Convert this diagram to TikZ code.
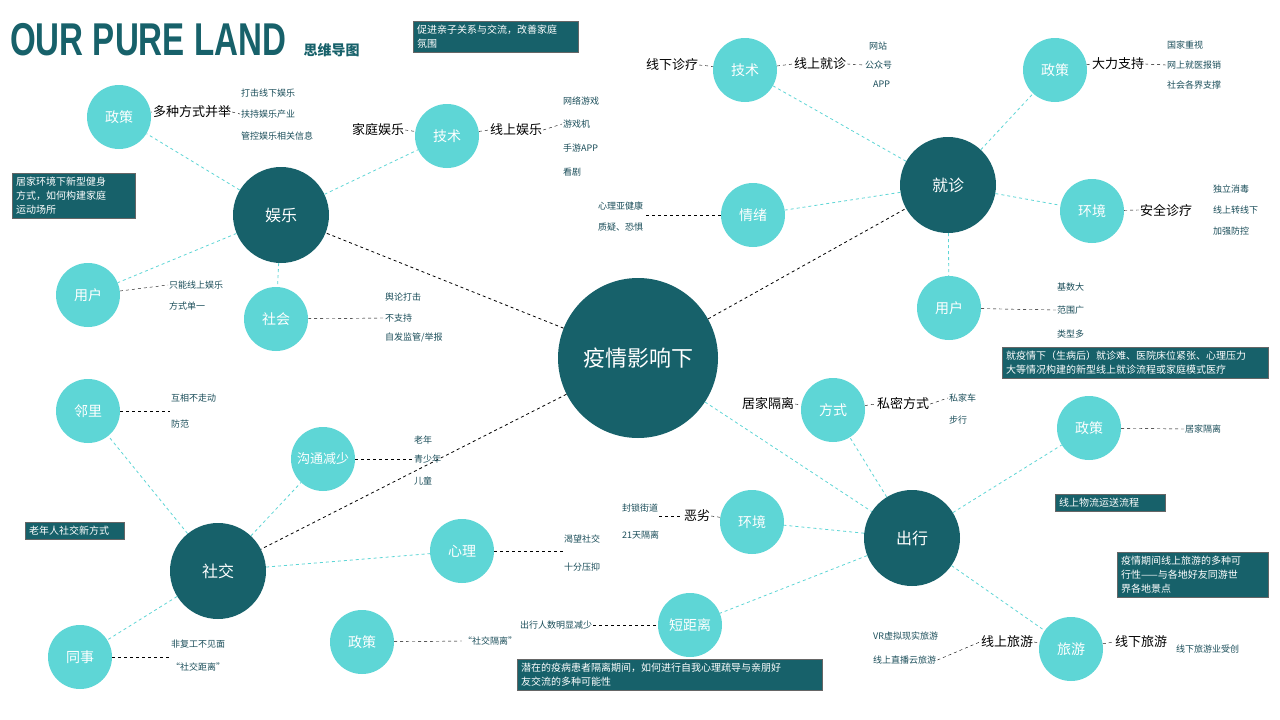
\documentclass[tikz,border=0pt]{standalone}
\usepackage{fontspec}
\setmainfont{Noto Sans CJK SC}
\newfontfamily\titlefont{Liberation Sans}
\definecolor{dk}{HTML}{17616A}
\definecolor{lt}{HTML}{5ED6D6}
\definecolor{tx}{HTML}{1B4E5A}
\begin{document}
\begin{tikzpicture}[x=1pt,y=-1pt,
 big/.style={circle,fill=dk,text=white,minimum size=96pt,inner sep=0pt,font=\fontsize{16}{18}\selectfont},
 sm/.style={circle,fill=lt,text=white,minimum size=64pt,inner sep=0pt,font=\fontsize{14}{16}\selectfont},
 tl/.style={draw=lt,dashed,thick},
 bl/.style={draw=black,dashed},
 lab/.style={font=\fontsize{13}{15}\selectfont,text=black,inner sep=1pt},
 li/.style={font=\fontsize{9}{11}\selectfont,text=tx,inner sep=1pt},
 box/.style={fill=dk,draw=black!60,text=white,font=\fontsize{10}{14}\selectfont,align=left,anchor=north west,inner sep=4pt}]
\useasboundingbox (0,0) rectangle (1280,720);
\fill[white] (0,0) rectangle (1280,720);
\node[anchor=west,text=dk,inner sep=0pt,xscale=0.72] (ttl) at (10,40) {\titlefont\fontsize{46}{46}\selectfont\bfseries OUR PURE LAND};
\node[anchor=west,text=dk,font=\fontsize{14}{16}\selectfont\bfseries] (ttl2) at (300,50) {思维导图};
% circles
\node[circle,fill=dk,text=white,minimum size=160pt,font=\fontsize{22}{24}\selectfont] (c) at (638,358) {疫情影响下};
\node[big] (yl) at (281,215) {娱乐};
\node[big] (jz) at (948,185) {就诊};
\node[big] (sj) at (218,571) {社交};
\node[big] (cx) at (912,538) {出行};
\node[sm] (a1) at (119,117) {政策};
\node[sm] (a2) at (447,136) {技术};
\node[sm] (a3) at (88,295) {用户};
\node[sm] (a4) at (276,319) {社会};
\node[sm] (b1) at (745,70) {技术};
\node[sm] (b2) at (1055,70) {政策};
\node[sm] (b3) at (753,215) {情绪};
\node[sm] (b4) at (1092,211) {环境};
\node[sm] (b5) at (949,308) {用户};
\node[sm] (s1) at (88,411) {邻里};
\node[sm,font=\fontsize{13}{15}\selectfont] (s2) at (323,459) {沟通减少};
\node[sm] (s3) at (462,551) {心理};
\node[sm] (s4) at (80,657) {同事};
\node[sm] (s5) at (362,642) {政策};
\node[sm] (d1) at (833,410) {方式};
\node[sm] (d2) at (1089,428) {政策};
\node[sm] (d3) at (752,522) {环境};
\node[sm] (d4) at (690,625) {短距离};
\node[sm] (d5) at (1071,649) {旅游};
% main links
\draw[bl,thick] (c) -- (yl); \draw[bl,thick] (c) -- (jz); \draw[bl,thick] (c) -- (sj);
\draw[tl] (c) -- (cx);
\foreach \n in {a1,a2,a3,a4} \draw[tl] (yl) -- (\n);
\foreach \n in {b1,b2,b3,b4,b5} \draw[tl] (jz) -- (\n);
\foreach \n in {s1,s2,s3,s4} \draw[tl] (sj) -- (\n);
\foreach \n in {d1,d2,d3,d4,d5} \draw[tl] (cx) -- (\n);
% entertainment
\node[lab] (l1) at (192,112) {多种方式并举};
\node[li,anchor=west] (l1a) at (240,93) {打击线下娱乐};
\node[li,anchor=west] (l1b) at (240,114) {扶持娱乐产业};
\node[li,anchor=west] (l1c) at (240,136) {管控娱乐相关信息};
\draw[bl] (a1) -- (l1.west); \draw[bl] (l1.east) -- (l1b.west);
\node[lab] (l2) at (378,130) {家庭娱乐};
\draw[bl] (l2.east) -- (a2);
\node[lab] (l3) at (516,130) {线上娱乐};
\draw[bl] (a2) -- (l3.west);
\node[li,anchor=west] (l3a) at (562,101) {网络游戏};
\node[li,anchor=west] (l3b) at (562,124) {游戏机};
\node[li,anchor=west] (l3c) at (562,148) {手游APP};
\node[li,anchor=west] (l3d) at (562,172) {看剧};
\draw[bl] (l3.east) -- (l3b.west);
\node[li,anchor=west] (l4a) at (168,285) {只能线上娱乐};
\node[li,anchor=west] (l4b) at (168,306) {方式单一};
\draw[bl] (a3) -- (l4a.west);
\node[li,anchor=west] (l5a) at (384,297) {舆论打击};
\node[li,anchor=west] (l5b) at (384,318) {不支持};
\node[li,anchor=west] (l5c) at (384,337) {自发监管/举报};
\draw[bl] (a4) -- (l5b.west);
% clinic
\node[lab] (m1) at (672,65) {线下诊疗};
\draw[bl] (m1.east) -- (b1);
\node[lab] (m2) at (820,64) {线上就诊};
\draw[bl] (b1) -- (m2.west);
\node[li,anchor=west] (m2a) at (868,46) {网站};
\node[li,anchor=west] (m2b) at (864,65) {公众号};
\node[li,anchor=west] (m2c) at (872,84) {APP};
\draw[bl] (m2.east) -- (m2b.west);
\node[lab] (m3) at (1118,64) {大力支持};
\draw[bl] (b2) -- (m3.west);
\node[li,anchor=west] (m3a) at (1166,45) {国家重视};
\node[li,anchor=west] (m3b) at (1166,65) {网上就医报销};
\node[li,anchor=west] (m3c) at (1166,85) {社会各界支撑};
\draw[bl] (m3.east) -- (m3b.west);
\node[li,anchor=west] (m4a) at (597,206) {心理亚健康};
\node[li,anchor=west] (m4b) at (597,227) {质疑、恐惧};
\draw[bl] (b3) -- (m4a.east |- b3);
\node[lab] (m5) at (1166,210) {安全诊疗};
\draw[bl] (b4) -- (m5.west);
\node[li,anchor=west] (m5a) at (1212,189) {独立消毒};
\node[li,anchor=west] (m5b) at (1212,210) {线上转线下};
\node[li,anchor=west] (m5c) at (1212,231) {加强防控};
\node[li,anchor=west] (m6a) at (1056,287) {基数大};
\node[li,anchor=west] (m6b) at (1056,310) {范围广};
\node[li,anchor=west] (m6c) at (1056,334) {类型多};
\draw[bl] (b5) -- (m6b.west);
% social
\node[li,anchor=west] (n1a) at (170,398) {互相不走动};
\node[li,anchor=west] (n1b) at (170,424) {防范};
\draw[bl] (s1) -- (n1a.west |- s1);
\node[li,anchor=west] (n2a) at (413,440) {老年};
\node[li,anchor=west] (n2b) at (413,459) {青少年};
\node[li,anchor=west] (n2c) at (413,481) {儿童};
\draw[bl] (s2) -- (n2b.west);
\node[li,anchor=west] (n3a) at (563,539) {渴望社交};
\node[li,anchor=west] (n3b) at (563,567) {十分压抑};
\draw[bl] (s3) -- (n3a.west |- s3);
\node[li,anchor=west] (n4a) at (170,644) {非复工不见面};
\node[li,anchor=west] (n4b) at (170,667) {“社交距离”};
\draw[bl] (s4) -- (n4a.west |- s4);
\node[li] (n5a) at (490,641) {“社交隔离”};
\node[li] (n5b) at (556,625) {出行人数明显减少};
\draw[bl] (s5) -- (n5a.west); \draw[bl] (n5b.east) -- (d4);
% travel
\node[lab] (o1) at (768,404) {居家隔离};
\draw[bl] (o1.east) -- (d1);
\node[lab] (o2) at (903,404) {私密方式};
\draw[bl] (d1) -- (o2.west);
\node[li,anchor=west] (o2a) at (948,398) {私家车};
\node[li,anchor=west] (o2b) at (948,420) {步行};
\draw[bl] (o2.east) -- (o2a.west);
\node[li,anchor=west] (o3) at (1184,429) {居家隔离};
\draw[bl] (d2) -- (o3.west);
\node[lab] (o4) at (697,516) {恶劣};
\draw[bl] (o4.east) -- (d3);
\node[li,anchor=west] (o4a) at (621,508) {封锁街道};
\node[li,anchor=west] (o4b) at (621,535) {21天隔离};
\draw[bl] (o4a.east |- o4) -- (o4.west);
\node[lab] (o5) at (1007,642) {线上旅游};
\draw[bl] (o5.east) -- (d5);
\node[li,anchor=west] (o5a) at (872,636) {VR虚拟现实旅游};
\node[li,anchor=west] (o5b) at (872,660) {线上直播云旅游};
\draw[bl] (o5b.east) -- (o5.west);
\node[lab] (o6) at (1141,642) {线下旅游};
\draw[bl] (d5) -- (o6.west);
\node[li,anchor=west] (o6a) at (1175,649) {线下旅游业受创};
% boxes
\node[box,text width=157pt] (x1) at (413,21) {促进亲子关系与交流，改善家庭\\氛围};
\node[box,text width=115pt] (x2) at (12,173) {居家环境下新型健身\\方式，如何构建家庭\\运动场所};
\node[box,text width=258pt] (x3) at (1002,347) {就疫情下（生病后）就诊难、医院床位紧张、心理压力\\大等情况构建的新型线上就诊流程或家庭模式医疗};
\node[box,text width=102pt] (x4) at (1055,494) {线上物流运送流程};
\node[box,text width=143pt] (x5) at (1117,552) {疫情期间线上旅游的多种可\\行性——与各地好友同游世\\界各地景点};
\node[box,text width=91pt] (x6) at (25,522) {老年人社交新方式};
\node[box,text width=297pt] (x7) at (517,659) {潜在的疫病患者隔离期间，如何进行自我心理疏导与亲朋好\\友交流的多种可能性};
\end{tikzpicture}
\end{document}
